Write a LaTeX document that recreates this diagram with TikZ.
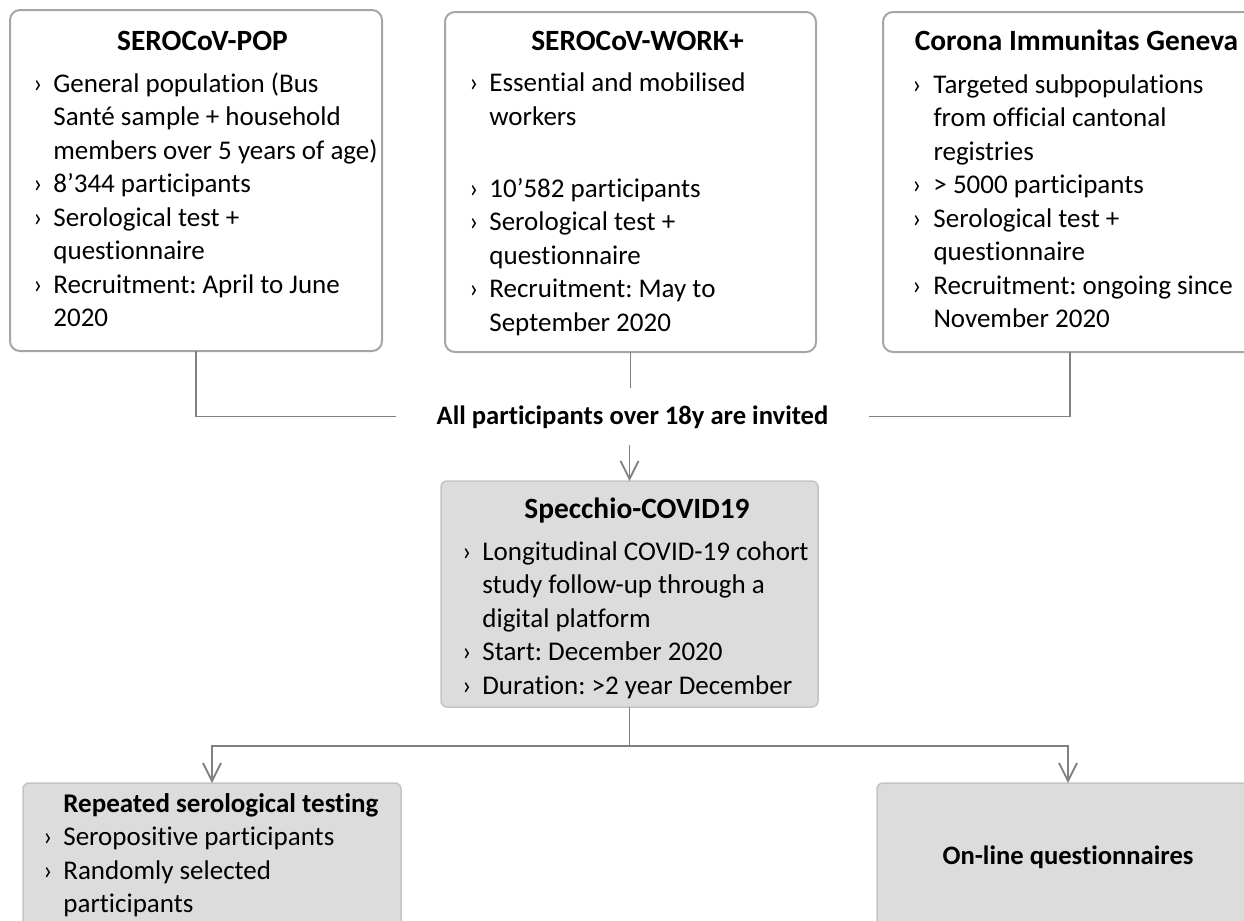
\documentclass[tikz,border=0pt]{standalone}
\usepackage{fontspec}
\setmainfont{Carlito}[Ligatures=NoCommon]
\usepackage{tikz}
\usetikzlibrary{arrows.meta}
\frenchspacing

\definecolor{boxline}{HTML}{A6A6A6}
\definecolor{panelfill}{HTML}{DCDCDC}
\definecolor{panelline}{HTML}{C4C4C4}
\definecolor{linkgray}{HTML}{808080}

\newcommand{\bulmark}[1][10pt]{\makebox[#1][l]{›}}
\newcommand{\bulskip}[1][10pt]{\hspace*{#1}}

\tikzset{
  cohortbox/.style={draw=boxline, line width=1pt, rounded corners=5pt, inner sep=0pt, outer sep=0pt},
  studybox/.style={draw=panelline, fill=panelfill, line width=0.75pt, rounded corners=3pt, inner sep=0pt, outer sep=0pt},
  head/.style={font=\fontsize{14.7pt}{17pt}\selectfont\bfseries, inner sep=0pt, anchor=base},
  body/.style={font=\fontsize{13.5pt}{16.75pt}\selectfont, align=left, inner sep=0pt, anchor=base west},
  link/.style={draw=linkgray, line width=0.9pt},
  arr/.style={link, -{Straight Barb[length=9pt, width=9pt, line width=0.9pt]}}
}

\begin{document}
\begin{tikzpicture}[x=0.5pt, y=-0.5pt]
\useasboundingbox (0,0) rectangle (1244,921);
\clip (0,0) rectangle (1244,921);

\node[cohortbox, minimum width=186pt, minimum height=170.5pt] (pop) at (196,180.5) {};
\node[cohortbox, minimum width=185.5pt, minimum height=170pt] (work) at (630.5,182) {};
\node[cohortbox, minimum width=187pt, minimum height=170pt] (cig) at (1070,182) {};

\node[head] (pop-head) at (202.5,50) {SEROCoV-POP};
\node[head] (work-head) at (637.5,50) {SEROCoV-WORK+};
\node[head] (cig-head) at (1076.5,50) {Corona Immunitas Geneva};

\node[body] (pop-txt) at (33,326.5) {\bulmark General population (Bus\\
\bulskip Santé sample + household\\
\bulskip members over 5 years of age)\\
\bulmark 8’344 participants\\
\bulmark Serological test +\\
\bulskip questionnaire\\
\bulmark Recruitment: April to June\\
\bulskip 2020};

\node[body] (work-txt) at (469,331) {\bulmark Essential and mobilised\\
\bulskip workers\\[19.25pt]
\bulmark 10’582 participants\\
\bulmark Serological test +\\
\bulskip questionnaire\\
\bulmark Recruitment: May to\\
\bulskip September 2020};

\node[body] (cig-txt) at (912,327.5) {\bulmark[7.5pt] Targeted subpopulations\\
\bulskip[7.5pt] from official cantonal\\
\bulskip[7.5pt] registries\\
\bulmark[7.5pt] > 5000 participants\\
\bulmark[7.5pt] Serological test +\\
\bulskip[7.5pt] questionnaire\\
\bulmark[7.5pt] Recruitment: ongoing since\\
\bulskip[7.5pt] November 2020};

\node[font=\fontsize{13.3pt}{16pt}\selectfont\bfseries, inner sep=0pt, text height=10.8pt, text depth=2.7pt,
  minimum width=236.5pt, minimum height=28.5pt] (invite) at (632.5,416.5) {All participants over 18y are invited};

\node[studybox, minimum width=188.5pt, minimum height=113pt] (spec) at (629.5,594) {};
\node[head] (spec-head) at (637,518) {Specchio-COVID19};
\node[body] (spec-txt) at (462,694) {\bulmark Longitudinal COVID-19 cohort\\
\bulskip study follow-up through a\\
\bulskip digital platform\\
\bulmark Start: December 2020\\
\bulmark Duration: >2 year December};

\node[studybox, minimum width=189pt, minimum height=74pt] (rep) at (212,857) {};
\node[body] (rep-txt) at (43,912.5) {\bulskip\textbf{Repeated serological testing}\\
\bulmark Seropositive participants\\
\bulmark Randomly selected\\
\bulskip participants};

\node[studybox, minimum width=191pt, minimum height=74pt, font=\fontsize{13.3pt}{16pt}\selectfont\bfseries] (onl) at (1068,857) {On-line questionnaires};

\coordinate (fork) at (629.5,746);

\draw[link] (pop.south) |- (invite.west);
\draw[link] (cig.south) |- (invite.east);
\draw[link] (work.south) -- (work.south |- invite.north);
\draw[arr] (spec.north |- invite.south) -- (spec.north);
\draw[link] (spec.south) -- (fork);
\draw[arr] (fork) -| (rep.north);
\draw[arr] (fork) -| (onl.north);
\end{tikzpicture}
\end{document}
